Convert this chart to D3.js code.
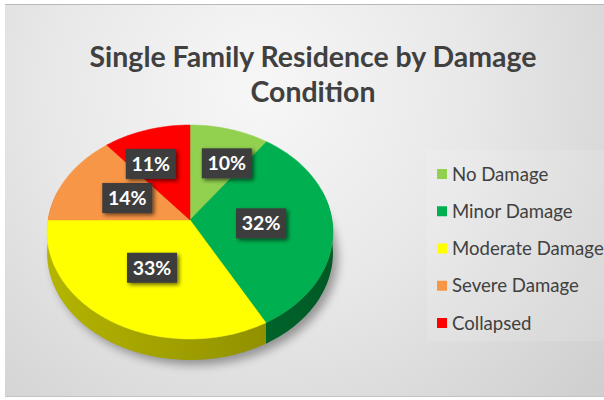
<!DOCTYPE html>
<html><head><meta charset="utf-8">
<script src="https://cdn.jsdelivr.net/npm/d3@7"></script>
<style>html,body{margin:0;padding:0;background:#fff;overflow:hidden}</style>
</head><body>
<svg id="chart" width="604" height="400"></svg>
<script>
// ---- data ----
const categories = ["No Damage","Minor Damage","Moderate Damage","Severe Damage","Collapsed"];
const values = [10,32,33,14,11];
const valueLabels = ["10%","32%","33%","14%","11%"];
const titleLines = ["Single Family Residence by Damage","Condition"];

// ---- styles ----
const sliceColors = ["#92D050","#00B050","#FFFF00","#F79646","#FF0000"];
const wallLight = ["#6f9e3c","#00823c","#b4b400","#b86a30","#b00000"];
const wallDark  = ["#4f7a28","#005a25","#868600","#8a4c20","#800000"];
const color = d3.scaleOrdinal().domain(categories).range(sliceColors);

const W=604,H=400;
const svg=d3.select("#chart");
const defs=svg.append("defs");

// background
const bg=defs.append("radialGradient").attr("id","bg").attr("gradientUnits","userSpaceOnUse")
  .attr("cx",260).attr("cy",90).attr("r",470);
bg.append("stop").attr("offset","0").attr("stop-color","#f7f7f7");
bg.append("stop").attr("offset","0.45").attr("stop-color","#e8e8e8");
bg.append("stop").attr("offset","1").attr("stop-color","#cdcdcd");
svg.append("rect").attr("width",W).attr("height",H).attr("fill","#ffffff");
svg.append("rect").attr("x",5).attr("y",4).attr("width",W-5).attr("height",393).attr("fill","url(#bg)");
svg.append("line").attr("x1",5).attr("x2",W).attr("y1",4.5).attr("y2",4.5).attr("stroke","#b8b8b8");
svg.append("line").attr("x1",5).attr("x2",W).attr("y1",396.5).attr("y2",396.5).attr("stroke","#c4c4c4");

// filters
const blur=defs.append("filter").attr("id","blur").attr("x","-20%").attr("y","-20%").attr("width","140%").attr("height","140%");
blur.append("feGaussianBlur").attr("stdDeviation",5);
const ds=defs.append("filter").attr("id","ds").attr("x","-30%").attr("y","-30%").attr("width","160%").attr("height","160%");
ds.append("feGaussianBlur").attr("in","SourceAlpha").attr("stdDeviation",2.2).attr("result","b");
ds.append("feOffset").attr("in","b").attr("dx",1.5).attr("dy",2).attr("result","o");
ds.append("feComponentTransfer").attr("in","o").attr("result","o2")
  .append("feFuncA").attr("type","linear").attr("slope",0.6);
const mg=ds.append("feMerge"); mg.append("feMergeNode").attr("in","o2"); mg.append("feMergeNode").attr("in","SourceGraphic");

// title
const title=svg.append("g").attr("font-family","Lato, 'Open Sans', sans-serif").attr("font-weight","bold")
  .attr("fill","#404040").attr("text-anchor","middle");
const t1=title.append("text").attr("x",313).attr("y",67).attr("font-size",28).text(titleLines[0]);
const w1=t1.node().getComputedTextLength();
const fs=28*447/w1;
t1.attr("font-size",fs);
title.append("text").attr("x",313).attr("y",102).attr("font-size",fs).text(titleLines[1]);

// ---- 3D pie projection ----
const cx=190, cy=220, a=142, g=0.1121, dd=-80.98, depth=21;
function proj(t,k){ const u=k*Math.sin(t), v=k*Math.cos(t), s=1+g*v; return [cx+a*u/s,(cy+dd*v)/s]; }
const pie=d3.pie().sort(null).value(d=>d)(values);
const line=d3.line();
function arcPts(a0,a1,k){ const pts=[]; const steps=Math.max(2,Math.ceil((a1-a0)/0.02)); for(let j=0;j<=steps;j++){pts.push(proj(a0+(a1-a0)*j/steps,k));} return pts; }

// shadow
const outline=arcPts(0,2*Math.PI,1).map(p=>[p[0]+5,p[1]+depth+5]);
svg.append("path").attr("d",line(outline)+"Z").attr("fill","#000").attr("opacity",0.35).attr("filter","url(#blur)");

const pieG=svg.append("g");
// walls
pie.forEach((p,i)=>{
  const lo=Math.max(p.startAngle,Math.PI/2-0.3), hi=Math.min(p.endAngle,3*Math.PI/2+0.3);
  if(hi<=lo) return;
  const top=arcPts(lo,hi,1);
  const bot=top.map(q=>[q[0],q[1]+depth]).reverse();
  const gid="wall"+i;
  const lgr=defs.append("linearGradient").attr("id",gid).attr("gradientUnits","userSpaceOnUse")
    .attr("x1",cx-a).attr("x2",cx+a).attr("y1",0).attr("y2",0);
  lgr.append("stop").attr("offset","0").attr("stop-color",wallLight[i]);
  lgr.append("stop").attr("offset","1").attr("stop-color",wallDark[i]);
  pieG.append("path").attr("d",line(top.concat(bot))+"Z").attr("fill","url(#"+gid+")");
});
// top faces
pie.forEach((p,i)=>{
  const pts=[proj(0,0)].concat(arcPts(p.startAngle,p.endAngle,1));
  pieG.append("path").attr("d",line(pts)+"Z").attr("fill",color(categories[i]))
    .attr("stroke",color(categories[i])).attr("stroke-width",0.5);
});

// ---- labels ----
const bw=50,bh=30;
const labs=pie.map((p,i)=>({i,mid:(p.startAngle+p.endAngle)/2,k:0.5}));
function place(l){ const q=proj(l.mid,l.k); l.x=q[0]; l.y=q[1]; }
labs.forEach(place);
const overl=(A,B)=>Math.abs(A.x-B.x)<bw && Math.abs(A.y-B.y)<bh;
const pushed=labs.filter(l=>labs.some(o=>o!==l && values[o.i]>values[l.i] && overl(l,o)));
pushed.forEach(l=>{l.k=0.6; place(l);});
for(let i=0;i<pushed.length;i++)for(let j=i+1;j<pushed.length;j++){
  const A=pushed[i],B=pushed[j];
  if(Math.abs(A.y-B.y)<bh){ const dx=A.x-B.x, need=bw+26;
    if(Math.abs(dx)<need){ const m=(A.x+B.x)/2, sgn=dx>=0?1:-1; A.x=m+sgn*need/2; B.x=m-sgn*need/2; } }
}
const lg=svg.append("g").attr("font-family","Lato, 'Open Sans', sans-serif").attr("font-weight","bold");
labs.forEach(l=>{
  const gg=lg.append("g").attr("transform",`translate(${l.x},${l.y})`);
  gg.append("rect").attr("x",-bw/2).attr("y",-bh/2).attr("width",bw).attr("height",bh)
    .attr("fill","#3c3c3c").attr("filter","url(#ds)");
  gg.append("text").attr("text-anchor","middle").attr("dy","0.36em").attr("font-size",19.5)
    .attr("fill","#ffffff").text(valueLabels[l.i]);
});

// ---- legend ----
svg.append("rect").attr("x",427).attr("y",150).attr("width",177).attr("height",191).attr("fill","#ffffff").attr("opacity",0.12);
const leg=svg.append("g").attr("font-family","Lato, 'Open Sans', sans-serif").attr("font-size",18.6).attr("fill","#404040");
const ly=d3.scalePoint().domain(categories).range([174,323]);
categories.forEach(c=>{
  leg.append("rect").attr("x",437).attr("y",ly(c)-5).attr("width",10).attr("height",10).attr("fill",color(c));
  leg.append("text").attr("x",452).attr("y",ly(c)).attr("dy","0.35em").text(c);
});
</script>
</body></html>
